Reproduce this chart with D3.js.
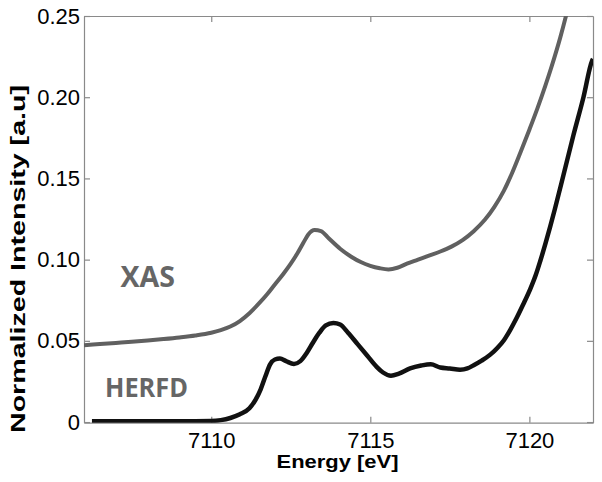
<!DOCTYPE html>
<html>
<head>
<meta charset="utf-8">
<script src="https://cdn.jsdelivr.net/npm/d3@7"></script>
<style>
html,body{margin:0;padding:0;background:#fff;}
svg{display:block;}
</style>
</head>
<body>
<svg id="chart" width="602" height="482"></svg>
<script>
// ---- Data ----
const xasEnergy = [7106.0,7106.5,7107.0,7107.5,7108.0,7108.5,7109.0,7109.5,7110.0,7110.3,7110.6,7110.9,7111.2,7111.5,7111.75,7112.0,7112.27,7112.5,7112.7,7112.9,7113.05,7113.25,7113.45,7113.7,7114.05,7114.4,7114.7,7115.0,7115.3,7115.57,7115.85,7116.15,7116.5,7116.8,7117.2,7117.55,7117.9,7118.25,7118.6,7118.9,7119.2,7119.45,7119.7,7120.0,7120.25,7120.5,7120.7,7120.97,7121.15,7121.3];
const xasValues = [0.0473,0.0480,0.0487,0.0494,0.0502,0.0511,0.0521,0.0533,0.0550,0.0566,0.0588,0.0622,0.0670,0.0730,0.0785,0.0847,0.0913,0.0975,0.1036,0.1105,0.1155,0.1182,0.1176,0.1130,0.1067,0.1018,0.0985,0.0962,0.0947,0.0940,0.0950,0.0975,0.1000,0.1022,0.1050,0.1080,0.1120,0.1175,0.1245,0.1325,0.1425,0.1530,0.1650,0.1800,0.1930,0.2070,0.2190,0.2367,0.2500,0.2620];

const herfdEnergy = [7106.25,7107.0,7108.0,7109.0,7110.0,7110.3,7110.6,7110.9,7111.2,7111.4,7111.55,7111.7,7111.85,7112.0,7112.16,7112.35,7112.6,7112.8,7113.0,7113.2,7113.4,7113.6,7113.84,7114.05,7114.3,7114.6,7114.9,7115.2,7115.4,7115.65,7115.9,7116.25,7116.6,7116.9,7117.2,7117.5,7117.82,7118.05,7118.25,7118.5,7118.77,7119.0,7119.2,7119.4,7119.61,7119.8,7120.03,7120.2,7120.34,7120.5,7120.65,7120.8,7121.07,7121.39,7121.7,7121.97,7122.0];
const herfdValues = [0.0005,0.0005,0.0005,0.0005,0.0007,0.0012,0.0025,0.0048,0.0085,0.0140,0.0200,0.0280,0.0355,0.0385,0.0391,0.0375,0.0358,0.0375,0.0425,0.0490,0.0550,0.0595,0.0610,0.0600,0.0550,0.0480,0.0410,0.0340,0.0305,0.0285,0.0298,0.0330,0.0348,0.0356,0.0336,0.0330,0.0322,0.0330,0.0350,0.0378,0.0415,0.0458,0.0504,0.0568,0.0645,0.0722,0.0820,0.0905,0.0990,0.1095,0.1200,0.1310,0.1520,0.1770,0.2000,0.2224,0.2236];

const xTicks = [7110, 7115, 7120];
const yTicks = [0, 0.05, 0.10, 0.15, 0.20, 0.25];
const yTickLabels = ["0", "0.05", "0.10", "0.15", "0.20", "0.25"];
const seriesNames = ["XAS", "HERFD"];
const xLabel = "Energy [eV]";
const yLabel = "Normalized Intensity [a.u]";

// ---- Layout ----
const L = 84, R = 593, T = 16, B = 422.7;
const svg = d3.select("#chart");
const x = d3.scaleLinear().domain([7106, 7122]).range([L, R]);
const y = d3.scaleLinear().domain([-0.0004, 0.25]).range([B, T]);

svg.append("defs").append("clipPath").attr("id", "clip")
  .append("rect").attr("x", L).attr("y", T).attr("width", R - L).attr("height", B - T);

const axisColor = "#8a8a8a";
const font = "'Liberation Sans', Arial, sans-serif";

function styleAxis(g) {
  g.selectAll("path.domain").attr("stroke", axisColor).attr("stroke-width", 1.2);
  g.selectAll(".tick line").attr("stroke", axisColor).attr("stroke-width", 1.2);
  g.selectAll("text").attr("fill", "#000").style("font-family", font).style("font-size", "22px");
}

const gx = svg.append("g").attr("transform", `translate(0,${B})`)
  .call(d3.axisBottom(x).tickValues(xTicks).tickFormat(d3.format("d")).tickSize(-6).tickSizeOuter(0).tickPadding(10));
styleAxis(gx);
const gxt = svg.append("g").attr("transform", `translate(0,${T})`)
  .call(d3.axisTop(x).tickValues(xTicks).tickFormat("").tickSize(-6).tickSizeOuter(0));
styleAxis(gxt);
const gy = svg.append("g").attr("transform", `translate(${L},0)`)
  .call(d3.axisLeft(y).tickValues(yTicks).tickFormat((d, i) => yTickLabels[i]).tickSize(-6).tickSizeOuter(0).tickPadding(4));
styleAxis(gy);
const gyr = svg.append("g").attr("transform", `translate(${R},0)`)
  .call(d3.axisRight(y).tickValues(yTicks).tickFormat("").tickSize(-6).tickSizeOuter(0));
styleAxis(gyr);

// ---- Lines ----
const line = d3.line().x(d => x(d[0])).y(d => y(d[1])).curve(d3.curveMonotoneX);
const xasData = xasEnergy.map((e, i) => [e, xasValues[i]]);
const herfdData = herfdEnergy.map((e, i) => [e, herfdValues[i]]);

const plot = svg.append("g").attr("clip-path", "url(#clip)");
plot.append("path").datum(xasData).attr("d", line)
  .attr("fill", "none").attr("stroke", "#606060").attr("stroke-width", 4).attr("stroke-linejoin", "round");
plot.append("path").datum(herfdData).attr("d", line)
  .attr("fill", "none").attr("stroke", "#111").attr("stroke-width", 4.5).attr("stroke-linejoin", "round");

// ---- Series labels ----
svg.append("text").text(seriesNames[0])
  .attr("x", 120.5).attr("y", 287.3)
  .attr("textLength", 54.5).attr("lengthAdjust", "spacingAndGlyphs")
  .style("font-family", "'Open Sans', sans-serif").style("font-weight", "bold").style("font-size", "28px")
  .attr("fill", "#666");
svg.append("text").text(seriesNames[1])
  .attr("x", 105).attr("y", 396.7)
  .attr("textLength", 83).attr("lengthAdjust", "spacingAndGlyphs")
  .style("font-family", "'Open Sans', sans-serif").style("font-weight", "bold").style("font-size", "27px")
  .attr("fill", "#666");

// ---- Axis titles ----
svg.append("text").text(xLabel)
  .attr("x", 337.5).attr("y", 467.5).attr("text-anchor", "middle")
  .attr("textLength", 122).attr("lengthAdjust", "spacingAndGlyphs")
  .style("font-family", font).style("font-weight", "bold").style("font-size", "19px").attr("fill", "#000");
svg.append("text").text(yLabel)
  .attr("transform", "translate(25,259) rotate(-90)").attr("text-anchor", "middle")
  .attr("textLength", 348).attr("lengthAdjust", "spacingAndGlyphs")
  .style("font-family", font).style("font-weight", "bold").style("font-size", "21px").attr("fill", "#000");
</script>
</body>
</html>
